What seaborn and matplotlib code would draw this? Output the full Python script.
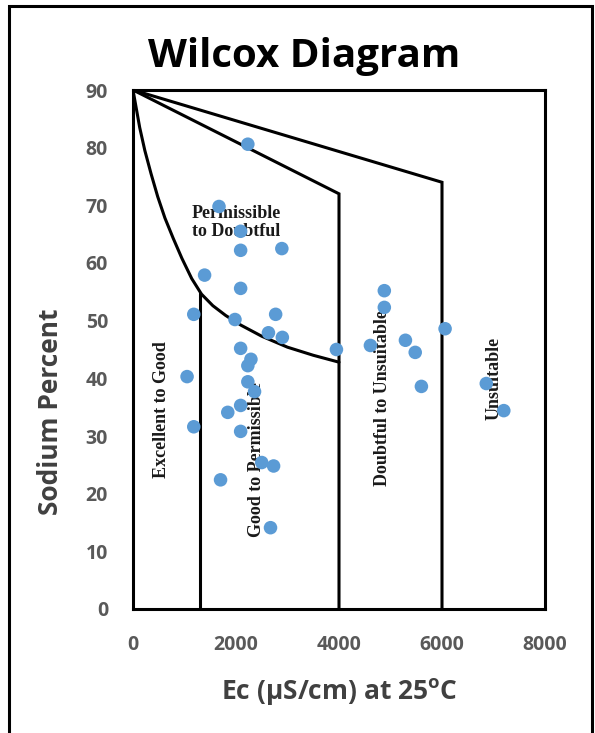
import matplotlib
matplotlib.use("Agg")
import matplotlib.pyplot as plt
import seaborn as sns
import pandas as pd
from matplotlib.patches import Rectangle

# ---- data ----
ec = [2230, 1670, 2090, 2890, 2090, 1390, 2090, 1180, 2770, 1980,
      2630, 2900, 3950, 2090, 2290, 2230, 1050, 2230, 2360, 2090,
      1840, 1180, 2090, 2500, 2730, 1700, 2670,
      4880, 4880, 4610, 5290, 5480, 5600, 6060, 6860, 7200]
na_pct = [80.6, 69.8, 65.5, 62.5, 62.2, 57.9, 55.6, 51.1, 51.1, 50.2,
          47.9, 47.1, 45.0, 45.2, 43.3, 42.2, 40.3, 39.4, 37.7, 35.3,
          34.1, 31.6, 30.8, 25.4, 24.8, 22.4, 14.1,
          55.2, 52.3, 45.7, 46.6, 44.5, 38.6, 48.6, 39.1, 34.4]

# class boundaries
curve_x = [0, 60, 130, 230, 350, 480, 620, 780, 950, 1140, 1330, 1550, 1800,
           2100, 2500, 3000, 3500, 4000]
curve_y = [90, 87, 83.5, 79.5, 75.5, 71.5, 67.8, 64.3, 60.8, 57.3, 54.6, 52.6, 50.9,
           49.2, 47.3, 45.4, 44, 42.8]
good_x = [1300, 1300]
good_y = [0, 54.8]
doubt_x = [0, 4000, 4000]
doubt_y = [90, 72, 0]
unsuit_x = [0, 6000, 6000]
unsuit_y = [90, 74, 0]

zone_labels = ["Permissible\nto Doubtful", "Excellent to Good", "Good to Permissible",
               "Doubtful to Unsuitable", "Unsuitable"]
zone_x = [2000, 560, 2390, 4850, 7010]
zone_y = [67, 34.5, 26, 36.5, 40]
zone_rot = [0, 90, 90, 90, 90]

df = pd.DataFrame({"Ec": ec, "Na": na_pct})

sns.set_style("white")
plt.rcParams["font.family"] = ["Open Sans", "DejaVu Sans"]

fig = plt.figure(figsize=(5.95, 7.33), dpi=100)
ax = fig.add_axes([133 / 595, 1 - 609 / 733, 412 / 595, 519 / 733])

# boundaries
for bx, by in [(curve_x, curve_y), (good_x, good_y), (doubt_x, doubt_y), (unsuit_x, unsuit_y)]:
    ax.plot(bx, by, color="black", lw=2.2, solid_joinstyle="miter", zorder=2)

# zone names
for lab, tx, ty, rot in zip(zone_labels, zone_x, zone_y, zone_rot):
    ax.text(tx, ty, lab, rotation=rot, ha="center", va="center",
            family="Liberation Serif", fontweight="bold", fontsize=13,
            color="#1a1a1a", linespacing=1.1, zorder=3)

sns.scatterplot(data=df, x="Ec", y="Na", ax=ax, color="#5B9BD5", s=95,
                edgecolor="none", zorder=4)

ax.set_xlim(0, 8000)
ax.set_ylim(0, 90)
ax.set_xticks(range(0, 8001, 2000))
ax.set_yticks(range(0, 91, 10))
ax.tick_params(axis="x", length=0, labelsize=14, labelcolor="#595959", pad=19)
ax.tick_params(axis="y", length=0, labelsize=14, labelcolor="#595959", pad=18)
for lbl in ax.get_xticklabels() + ax.get_yticklabels():
    lbl.set_fontweight("bold")
for sp in ax.spines.values():
    sp.set_visible(True)
    sp.set_color("black")
    sp.set_linewidth(2.2)

ax.set_xlabel("Ec (µS/cm) at 25$^{\\mathregular{o}}$C", fontsize=19, fontweight="bold",
              color="#404040")
ax.xaxis.set_label_coords(0.5, -0.13)
ax.set_ylabel("Sodium Percent", fontsize=19, fontweight="bold", color="#404040")
ax.yaxis.set_label_coords(-0.168, 0.38)

fig.text(304 / 595, 1 - 57 / 733, "Wilcox Diagram", ha="center", va="center",
         fontsize=29, fontweight="bold", color="black")

# outer frame of the picture
fig.patches.append(Rectangle((9 / 595, -0.05), 583 / 595, 1.05 - 6 / 733,
                             transform=fig.transFigure, fill=False,
                             edgecolor="black", lw=2.2))

fig.savefig("out.png", dpi=100)
